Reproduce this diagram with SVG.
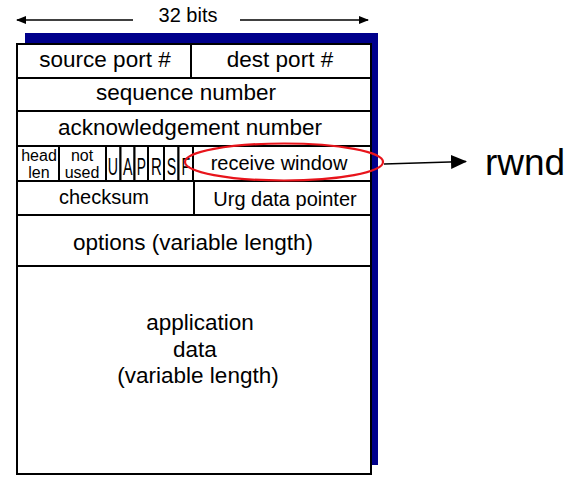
<svg xmlns="http://www.w3.org/2000/svg" width="574" height="486" viewBox="0 0 574 486">
<style>
text{font-family:"Liberation Sans",Arial,sans-serif;fill:#000;text-anchor:middle}
.cell{fill:#fff;stroke:#000;stroke-width:2}
.f22{font-size:22.5px}
.f20{font-size:20px}
.f16{font-size:16px}
.flag{font-size:23px}
.conn{stroke:#000;stroke-width:1.6;fill:none}
</style>
<defs>
<marker id="ah" markerWidth="10" markerHeight="8" refX="9" refY="4" orient="auto" markerUnits="userSpaceOnUse">
<path d="M0,0 L10,4 L0,8 Z" fill="#000"/>
</marker>
<marker id="ahBig" markerWidth="16" markerHeight="14" refX="15" refY="7" orient="auto" markerUnits="userSpaceOnUse">
<path d="M0,0 L16,7 L0,14 Z" fill="#000"/>
</marker>
</defs>
<rect x="0" y="0" width="574" height="486" fill="#fff"/>
<g id="width-label">
<text class="f20" x="188" y="22">32 bits</text>
</g>
<g id="shadow"><rect x="25" y="33" width="353" height="432" fill="#00008b"/></g>
<g id="header">
<g id="source-port"><rect class="cell" x="17" y="44" width="174" height="34"/><text class="f22" x="105" y="67">source port #</text></g>
<g id="dest-port"><rect class="cell" x="191" y="44" width="180" height="34"/><text class="f22" x="280" y="67">dest port #</text></g>
<g id="sequence-number"><rect class="cell" x="17" y="78" width="354" height="33"/><text class="f22" x="186" y="100">sequence number</text></g>
<g id="ack-number"><rect class="cell" x="17" y="111" width="354" height="35"/><text class="f22" x="190" y="135">acknowledgement number</text></g>
<g id="head-len"><rect class="cell" x="17" y="146" width="42" height="35"/><text class="f16" x="39" y="161">head</text><text class="f16" x="39" y="178">len</text></g>
<g id="not-used"><rect class="cell" x="59" y="146" width="47" height="35"/><text class="f16" x="82" y="161">not</text><text class="f16" x="82" y="178">used</text></g>
<g id="flag-U"><rect class="cell" x="106" y="146" width="14.5" height="35"/><text class="flag" transform="translate(113,175) scale(0.62,1)">U</text></g>
<g id="flag-A"><rect class="cell" x="120.5" y="146" width="14" height="35"/><text class="flag" transform="translate(127.8,175) scale(0.62,1)">A</text></g>
<g id="flag-P"><rect class="cell" x="134.5" y="146" width="13.5" height="35"/><text class="flag" transform="translate(141.3,175) scale(0.6,1)">P</text></g>
<g id="flag-R"><rect class="cell" x="148" y="146" width="16" height="35"/><text class="flag" transform="translate(156.3,175) scale(0.65,1)">R</text></g>
<g id="flag-S"><rect class="cell" x="164" y="146" width="14.5" height="35"/><text class="flag" transform="translate(171.4,175) scale(0.62,1)">S</text></g>
<g id="flag-F"><rect class="cell" x="178.5" y="146" width="14.5" height="35"/><text class="flag" transform="translate(185.9,175) scale(0.62,1)">F</text></g>
<g id="receive-window"><rect class="cell" x="193" y="146" width="178" height="35"/><text class="f20" x="279" y="170">receive window</text></g>
<g id="checksum"><rect class="cell" x="17" y="181" width="177" height="34"/><text class="f20" x="104" y="204">checksum</text></g>
<g id="urg-pointer"><rect class="cell" x="194" y="181" width="177" height="34"/><text class="f20" x="285" y="206">Urg data pointer</text></g>
<g id="options"><rect class="cell" x="17" y="215" width="354" height="51"/><text class="f22" x="193" y="250">options (variable length)</text></g>
<g id="app-data"><rect class="cell" x="17" y="266" width="354" height="208"/>
<text class="f22" x="200" y="330">application</text>
<text class="f22" x="195" y="357">data</text>
<text class="f22" x="198" y="383">(variable length)</text></g>
</g>
<g id="highlight"><ellipse cx="284" cy="162" rx="99" ry="18.5" fill="none" stroke="#e8141b" stroke-width="2.2"/></g>
<g id="rwnd"><text x="525" y="175" style="font-size:37px">rwnd</text></g>
<g id="connectors">
<line class="conn" x1="133" y1="20" x2="17" y2="20" marker-end="url(#ah)"/>
<line class="conn" x1="240" y1="20" x2="368" y2="20" marker-end="url(#ah)"/>
<line class="conn" x1="384" y1="164" x2="466" y2="161.5" marker-end="url(#ahBig)"/>
</g>
</svg>
